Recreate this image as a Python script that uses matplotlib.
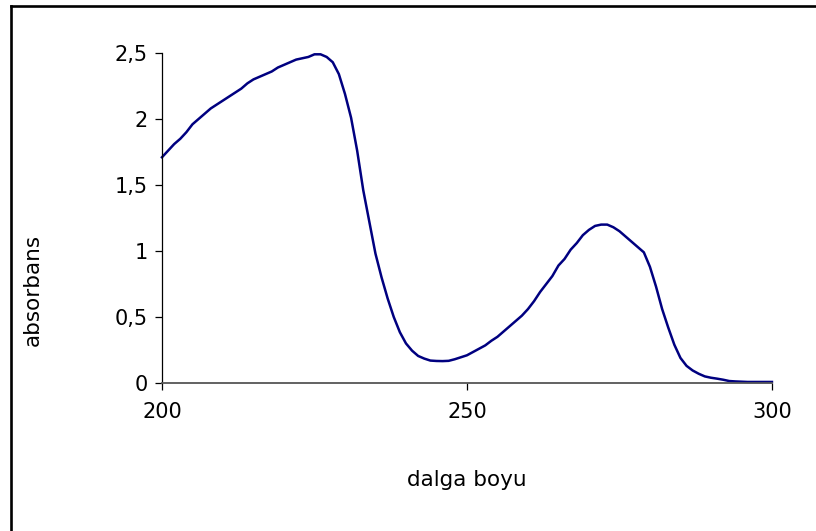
import numpy as np
import matplotlib.pyplot as plt
from matplotlib.lines import Line2D
from matplotlib.ticker import FuncFormatter

# absorption spectrum, 1 nm steps
wavelength = np.arange(200, 301)
absorbance = [
    1.71, 1.76, 1.81, 1.85, 1.90, 1.96, 2.00, 2.04, 2.08, 2.11,
    2.14, 2.17, 2.20, 2.23, 2.27, 2.30, 2.32, 2.34, 2.36, 2.39,
    2.41, 2.43, 2.45, 2.46, 2.47, 2.49, 2.49, 2.47, 2.43, 2.34,
    2.19, 2.01, 1.76, 1.46, 1.22, 0.98, 0.80, 0.64, 0.50, 0.385,
    0.30, 0.245, 0.205, 0.185, 0.17, 0.167, 0.166, 0.168, 0.18, 0.195,
    0.21, 0.235, 0.26, 0.285, 0.32, 0.35, 0.39, 0.43, 0.47, 0.51,
    0.56, 0.62, 0.69, 0.75, 0.81, 0.89, 0.94, 1.01, 1.06, 1.12,
    1.16, 1.19, 1.20, 1.20, 1.18, 1.15, 1.11, 1.07, 1.03, 0.99,
    0.88, 0.73, 0.56, 0.42, 0.29, 0.19, 0.13, 0.095, 0.07, 0.05,
    0.04, 0.033, 0.025, 0.015, 0.012, 0.01, 0.008, 0.008, 0.008, 0.008,
    0.008,
]
x_ticks = [200, 250, 300]
y_ticks = [0, 0.5, 1, 1.5, 2, 2.5]


def comma(v, pos):
    s = ('%g' % v)
    return s.replace('.', ',')


def main():
    plt.rcParams['font.family'] = 'DejaVu Sans'
    fig = plt.figure(figsize=(8.16, 5.31), dpi=100)
    ax = fig.add_axes([0.1985, 0.2787, 0.7475, 0.6215])

    ax.plot(wavelength, absorbance, color='#000080', lw=1.8, clip_on=False)

    ax.set_xlim(200, 300)
    ax.set_ylim(0, 2.5)
    ax.set_xticks(x_ticks)
    ax.set_yticks(y_ticks)
    ax.yaxis.set_major_formatter(FuncFormatter(comma))

    for side in ['top', 'right']:
        ax.spines[side].set_visible(False)
    ax.spines['left'].set_color('black')
    ax.spines['left'].set_linewidth(0.9)
    ax.spines['bottom'].set_color('#555555')
    ax.spines['bottom'].set_linewidth(1.3)

    ax.tick_params(axis='both', direction='out', length=5, width=0.9,
                   color='black', labelsize=15)
    ax.tick_params(axis='y', pad=5)
    ax.tick_params(axis='x', pad=9)

    ax.set_xlabel('dalga boyu', fontsize=15.5)
    ax.set_ylabel('absorbans', fontsize=15.5)
    ax.xaxis.set_label_coords(0.5, -0.294)
    ax.xaxis.label.set_va('center')
    ax.yaxis.set_label_coords(-0.2115, 0.282)
    ax.yaxis.label.set_va('center')
    ax.yaxis.label.set_ha('center')

    # frame lines along left and top of the chart area
    fig.add_artist(Line2D([10.5 / 816, 10.5 / 816], [0, 1 - 5.5 / 531],
                          transform=fig.transFigure, color='black', lw=1.9))
    fig.add_artist(Line2D([10.5 / 816, 1], [1 - 5.5 / 531, 1 - 5.5 / 531],
                          transform=fig.transFigure, color='black', lw=1.9))

    fig.savefig('out.png', dpi=100)


if __name__ == '__main__':
    main()
